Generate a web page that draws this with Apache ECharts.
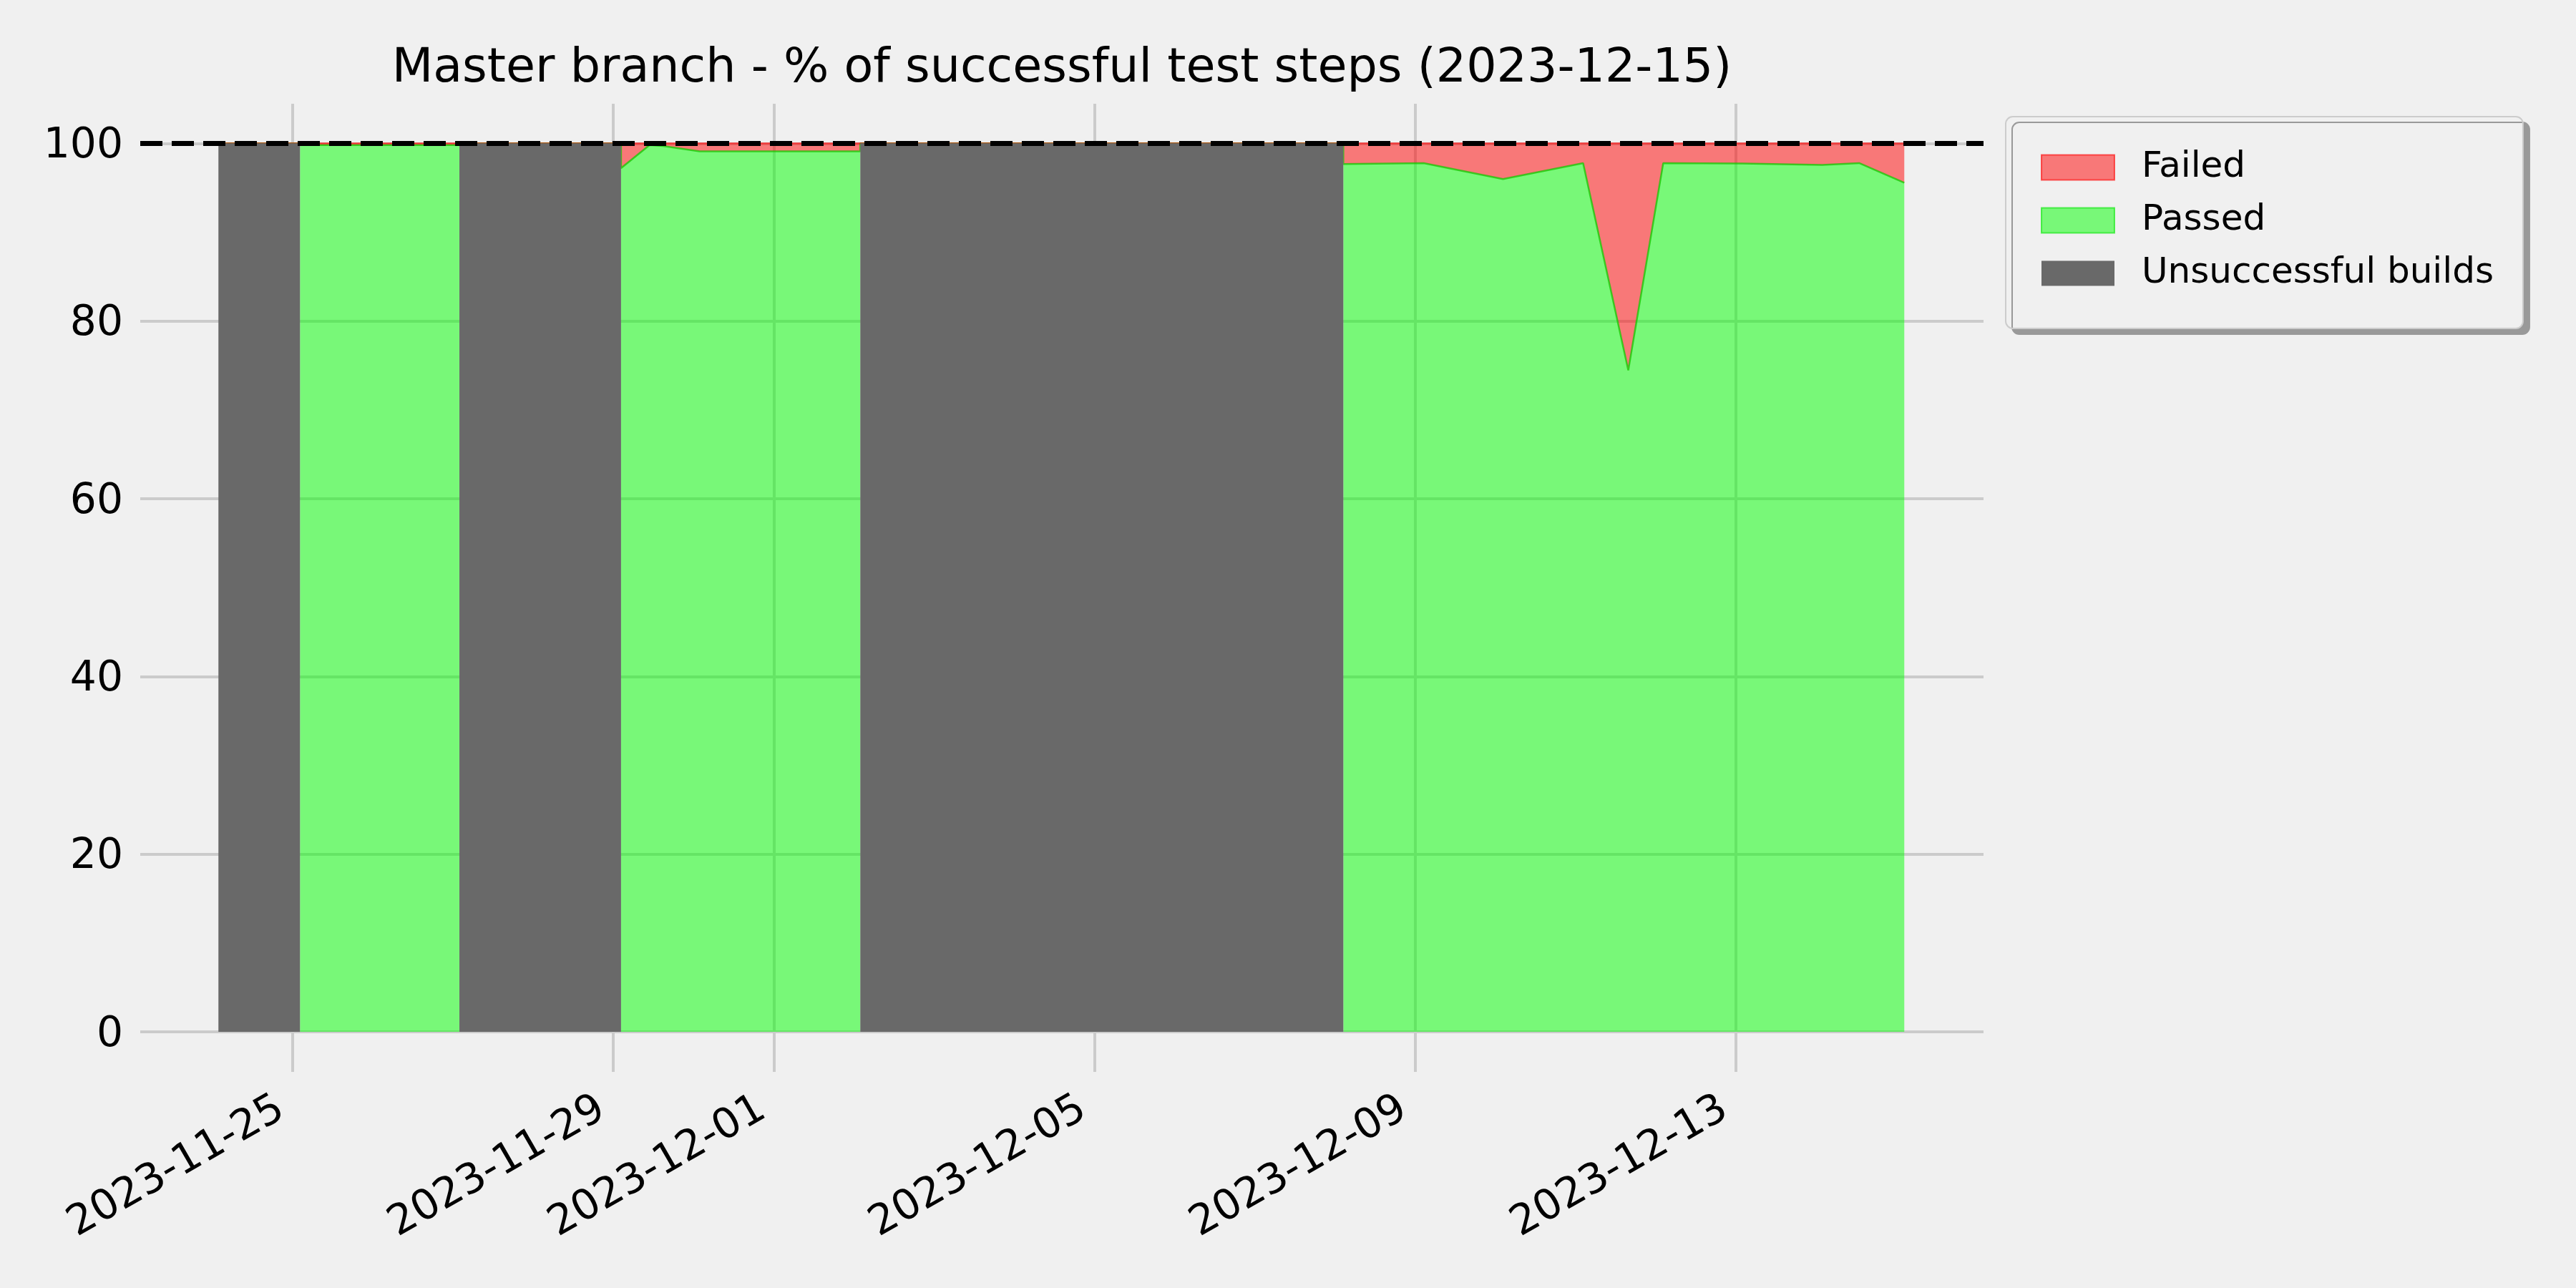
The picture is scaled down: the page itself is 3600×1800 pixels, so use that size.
<!DOCTYPE html>
<html>
<head>
<meta charset="utf-8">
<script src="https://cdn.jsdelivr.net/npm/echarts@6/dist/echarts.min.js"></script>
<style>
  html, body { margin: 0; padding: 0; background: #f0f0f0; }
  #chart { width: 3600px; height: 1800px; }
</style>
</head>
<body>
<div id="chart"></div>
<script>
// ---- data ----
const chartTitle = 'Master branch - % of successful test steps (2023-12-15)';
const seriesNames = ['Unsuccessful builds', 'Passed', 'Failed'];
// build times (duplicated times mark instant switches between build states)
const buildTimes = [
  '2023-11-24T01:47', '2023-11-25T02:12', '2023-11-25T02:12', '2023-11-26T02:00',
  '2023-11-27T01:55', '2023-11-27T01:55', '2023-11-28T02:00', '2023-11-29T02:18',
  '2023-11-29T02:18', '2023-11-29T10:50', '2023-11-29T14:50', '2023-11-30T01:50',
  '2023-12-01T02:00', '2023-12-02T01:55', '2023-12-02T01:55', '2023-12-03T02:00',
  '2023-12-04T02:00', '2023-12-05T02:00', '2023-12-06T02:00', '2023-12-07T02:00',
  '2023-12-08T02:30', '2023-12-08T02:30', '2023-12-09T02:34', '2023-12-10T02:18',
  '2023-12-11T02:17', '2023-12-11T15:48', '2023-12-12T02:15', '2023-12-13T02:00',
  '2023-12-14T01:51', '2023-12-14T12:55', '2023-12-15T02:25'
];
const unsuccessful = [
  100, 100, 0, 0,
  0, 100, 100, 100,
  0, 0, 0, 0,
  0, 0, 100, 100,
  100, 100, 100, 100,
  100, 0, 0, 0,
  0, 0, 0, 0,
  0, 0, 0
];
const passed = [
  0, 0, 99.8, 99.8,
  99.8, 0, 0, 0,
  97.2, 99.8, 99.7, 99.1,
  99.1, 99.1, 0, 0,
  0, 0, 0, 0,
  0, 97.66, 97.77, 95.97,
  97.77, 74.45, 97.77, 97.72,
  97.56, 97.77, 95.57
];
const failed = [
  0, 0, 0.2, 0.2,
  0.2, 0, 0, 0,
  2.8, 0.2, 0.3, 0.9,
  0.9, 0.9, 0, 0,
  0, 0, 0, 0,
  0, 2.34, 2.23, 4.03,
  2.23, 25.55, 2.23, 2.28,
  2.44, 2.23, 4.43
];
const xTickLabels = ['2023-11-25', '2023-11-29', '2023-12-01', '2023-12-05', '2023-12-09', '2023-12-13'];
const yTickValues = [0, 20, 40, 60, 80, 100];
const targetLine = 100;
const xRange = ['2023-11-23T02:23', '2023-12-16T02:08'];
const yRange = [-4.5, 104.45];

// ---- build ----
const ts = s => new Date(s).getTime();
const pairs = vals => buildTimes.map((t, i) => [ts(t), vals[i]]);
const xTickValues = xTickLabels.map(s => ts(s + 'T00:00'));
const FONT = 'DejaVu Sans';

const chart = echarts.init(document.getElementById('chart'), null, { renderer: 'canvas' });

const areaSeries = (idx, vals, z, area, line) => ({
  name: seriesNames[idx],
  type: 'line',
  stack: 'total',
  xAxisIndex: 0,
  z: z,
  showSymbol: false,
  symbol: 'none',
  itemStyle: { color: area },
  lineStyle: line,
  areaStyle: { color: area, opacity: 1 },
  data: pairs(vals)
});

const s0 = areaSeries(0, unsuccessful, 3, '#696969', { width: 0, opacity: 0 });
s0.markLine = {
  silent: true,
  symbol: 'none',
  z: 10,
  label: { show: false },
  lineStyle: { color: '#000', type: [31, 13], width: 7, cap: 'butt' },
  data: [{ yAxis: targetLine }]
};
const s1 = areaSeries(1, passed, 2, 'rgba(0,255,0,0.5)', { color: 'rgba(20,200,0,0.75)', width: 2.5 });
const s2 = areaSeries(2, failed, 2, 'rgba(255,0,0,0.5)', { color: 'rgba(255,0,0,0.55)', width: 2.5 });

chart.setOption({
  animation: false,
  backgroundColor: '#f0f0f0',
  title: {
    text: chartTitle,
    left: 1479,
    top: 58,
    textAlign: 'center',
    textStyle: { fontFamily: FONT, fontSize: 66.7, fontWeight: 'normal', color: '#000' }
  },
  legend: {
    orient: 'vertical',
    left: 2803,
    top: 163,
    padding: [46, 41, 52, 49],
    itemWidth: 102,
    itemHeight: 35,
    itemGap: 24,
    icon: 'rect',
    selectedMode: false,
    backgroundColor: '#f0f0f0',
    borderColor: '#cccccc',
    borderWidth: 2,
    borderRadius: 10,
    shadowColor: '#999999',
    shadowBlur: 0,
    shadowOffsetX: 9,
    shadowOffsetY: 8,
    textStyle: { fontFamily: FONT, fontSize: 50, color: '#000', padding: [0, 0, 0, 33] },
    data: [
      { name: 'Failed', itemStyle: { color: 'rgba(255,0,0,0.5)', borderColor: 'rgba(255,0,0,0.6)', borderWidth: 2 } },
      { name: 'Passed', itemStyle: { color: 'rgba(0,255,0,0.5)', borderColor: 'rgba(0,230,0,0.6)', borderWidth: 2 } },
      { name: 'Unsuccessful builds', itemStyle: { color: '#696969', borderWidth: 0 } }
    ]
  },
  grid: { left: 196, right: 828, top: 145, bottom: 302 },
  xAxis: [
    {
      // time scale used by the data
      type: 'time',
      min: ts(xRange[0]),
      max: ts(xRange[1]),
      axisLine: { show: false },
      axisTick: { show: false },
      axisLabel: { show: false },
      splitLine: { show: false }
    },
    {
      // same range, carries the date ticks, labels and grid lines
      type: 'value',
      position: 'bottom',
      min: ts(xRange[0]),
      max: ts(xRange[1]),
      axisLine: { show: false },
      axisTick: { show: false, customValues: xTickValues },
      splitLine: { show: true, lineStyle: { color: '#cbcbcb', width: 4 } },
      axisLabel: {
        customValues: xTickValues,
        rotate: 30,
        margin: 39,
        padding: [0, 18, 0, 0],
        fontFamily: FONT,
        fontSize: 58.3,
        color: '#000',
        formatter: v => echarts.time.format(v, '{yyyy}-{MM}-{dd}', false)
      }
    }
  ],
  yAxis: {
    type: 'value',
    min: yRange[0],
    max: yRange[1],
    axisLine: { show: false },
    axisTick: { show: false, customValues: yTickValues },
    splitLine: { show: true, lineStyle: { color: '#cbcbcb', width: 4 } },
    axisLabel: {
      customValues: yTickValues,
      margin: 24,
      fontFamily: FONT,
      fontSize: 58.3,
      color: '#000',
      formatter: v => '{t|' + v + '}',
      rich: { t: { fontFamily: FONT, fontSize: 58.3, color: '#000', padding: [9, 0, 0, 0] } }
    }
  },
  series: [s0, s1, s2]
});
</script>
</body>
</html>
